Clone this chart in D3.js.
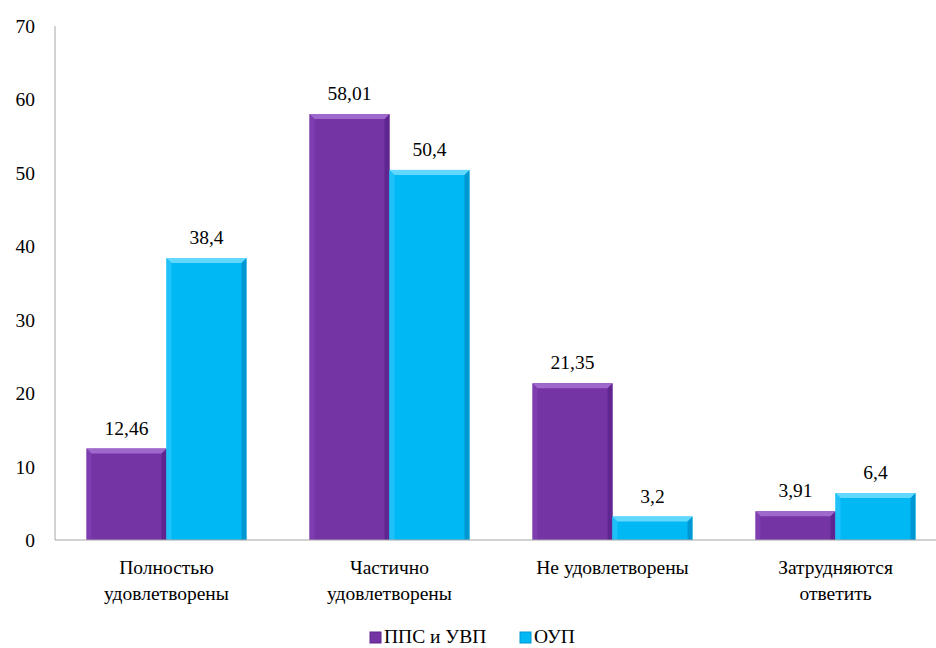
<!DOCTYPE html>
<html>
<head>
<meta charset="utf-8">
<script src="https://cdn.jsdelivr.net/npm/d3@7/dist/d3.min.js"></script>
</head>
<body style="margin:0;background:#fff">
<svg id="s" width="936" height="648" style="display:block"></svg>
<script>
// Survey results: share of respondents (%) by satisfaction level
const categories = [
  ["Полностью", "удовлетворены"],
  ["Частично", "удовлетворены"],
  ["Не удовлетворены"],
  ["Затрудняются", "ответить"]
];
const seriesNames = ["ППС и УВП", "ОУП"];
const ppsValues = [12.46, 58.01, 21.35, 3.91];
const oupValues = [38.4, 50.4, 3.2, 6.4];
const valueLabels = [
  ["12,46", "58,01", "21,35", "3,91"],
  ["38,4", "50,4", "3,2", "6,4"]
];
const yTicks = [0, 10, 20, 30, 40, 50, 60, 70];

const palette = [
  { base: "#7434a4", light: "#9f68cc", lighter: "#7e3db0", dark: "#5f2590" },
  { base: "#00b8f4", light: "#62d8ff", lighter: "#1ec2f8", dark: "#0098d2" }
];

const fontSize = 19.5;

const svg = d3.select("#s");
const margin = { left: 55, top: 26, bottom: 540, right: 947 };

const x = d3.scaleBand()
  .domain(d3.range(categories.length))
  .range([margin.left, margin.right])
  .paddingInner(0.283)
  .paddingOuter(0.1415);

const xs = d3.scaleBand()
  .domain(d3.range(seriesNames.length))
  .range([0, x.bandwidth()]);

const y = d3.scaleLinear().domain([0, 70]).range([margin.bottom, margin.top]);

const label = (sel) => sel
  .style("font-family", '"Times New Roman"')
  .attr("font-size", fontSize);

// Y axis: line + tick labels, no tick marks
svg.append("line")
  .attr("x1", margin.left).attr("x2", margin.left)
  .attr("y1", y(70)).attr("y2", y(0))
  .attr("stroke", "#a6a6a6").attr("stroke-width", 1);

svg.append("g").selectAll("text").data(yTicks).join("text")
  .attr("x", margin.left - 20)
  .attr("y", d => y(d) + 7)
  .attr("text-anchor", "end")
  .call(label)
  .text(d => d);

const series = [ppsValues, oupValues];

// Bars with a soft bevelled edge
const bevel = 5;
series.forEach((vals, si) => {
  const c = palette[si];
  const g = svg.append("g");
  vals.forEach((v, ci) => {
    const x0 = x(ci) + xs(si);
    const x1 = x0 + xs.bandwidth();
    const y0 = y(v);
    const y1 = y(0);
    const b = Math.min(bevel, (y1 - y0) / 2);
    g.append("rect")
      .attr("x", x0).attr("y", y0)
      .attr("width", x1 - x0).attr("height", y1 - y0)
      .attr("fill", c.base);
    const poly = (pts, fill) => g.append("polygon")
      .attr("points", pts.map(p => p.join(",")).join(" "))
      .attr("fill", fill);
    // left
    poly([[x0, y0], [x0 + b, y0 + b], [x0 + b, y1], [x0, y1]], c.lighter);
    // right
    poly([[x1, y0], [x1, y1], [x1 - b, y1], [x1 - b, y0 + b]], c.dark);
    // top
    poly([[x0, y0], [x1, y0], [x1 - b, y0 + b], [x0 + b, y0 + b]], c.light);
    // value label
    svg.append("text")
      .attr("x", (x0 + x1) / 2)
      .attr("y", y0 - 14)
      .attr("text-anchor", "middle")
      .call(label)
      .text(valueLabels[si][ci]);
  });
});

// X axis baseline
svg.append("line")
  .attr("x1", margin.left).attr("x2", 936)
  .attr("y1", y(0)).attr("y2", y(0))
  .attr("stroke", "#a6a6a6").attr("stroke-width", 1);

// Category labels, one text per line
categories.forEach((lines, ci) => {
  const cx = x(ci) + x.bandwidth() / 2;
  lines.forEach((ln, i) => {
    svg.append("text")
      .attr("x", cx)
      .attr("y", 574 + i * 26)
      .attr("text-anchor", "middle")
      .call(label)
      .text(ln);
  });
});

// Legend
const legendItems = [
  { name: seriesNames[0], x: 370 },
  { name: seriesNames[1], x: 520 }
];
legendItems.forEach((it, i) => {
  const c = palette[i];
  svg.append("rect")
    .attr("x", it.x).attr("y", 632)
    .attr("width", 11).attr("height", 11)
    .attr("fill", c.base)
    .attr("stroke", c.dark).attr("stroke-width", 1);
  svg.append("text")
    .attr("x", it.x + 14)
    .attr("y", 643)
    .call(label)
    .text(it.name);
});
</script>
</body>
</html>
